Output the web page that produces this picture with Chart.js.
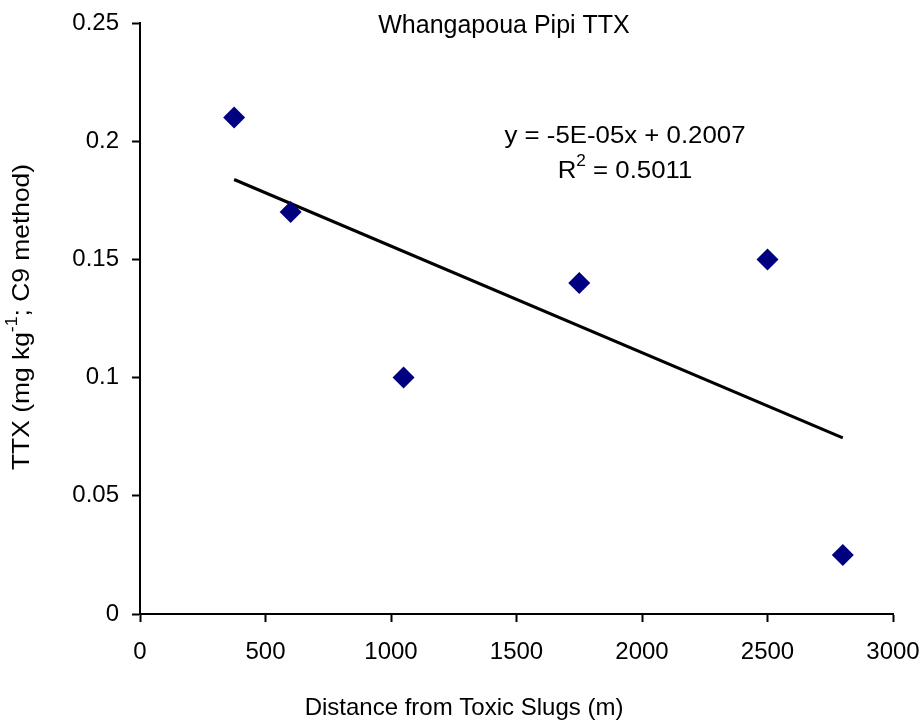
<!DOCTYPE html>
<html>
<head>
<meta charset="utf-8">
<script src="https://cdn.jsdelivr.net/npm/chart.js@4"></script>
<style>
  html, body { margin: 0; padding: 0; background: #fff; }
  #wrap { width: 922px; height: 727px; }
</style>
</head>
<body>
<div id="wrap"><canvas id="chart" width="922" height="727"></canvas></div>
<script>
// ---------- DATA ----------
const distances = [375, 600, 1050, 1750, 2500, 2800];
const ttxValues = [0.21, 0.17, 0.10, 0.14, 0.15, 0.025];
const trendX = [375, 2800];
const trendY = [0.1838, 0.0745];
const xTicks = [0, 500, 1000, 1500, 2000, 2500, 3000];
const yTicks = [0, 0.05, 0.1, 0.15, 0.2, 0.25];

const chartTitle = "Whangapoua Pipi TTX";
const xTitle = "Distance from Toxic Slugs (m)";
const eqLine = "y = -5E-05x + 0.2007";
const r2Value = "0.5011";

const FONT = "'Liberation Sans', Arial, sans-serif";

// ---------- TEXT PLUGIN ----------
// title, axis titles (with superscripts) and trend equation
const textPlugin = {
  id: "texts",
  afterDraw(chart) {
    const ctx = chart.ctx;
    const a = chart.chartArea;
    ctx.save();
    ctx.fillStyle = "#000";
    ctx.textBaseline = "middle";
    ctx.textAlign = "center";

    ctx.font = "25px " + FONT;
    ctx.fillText(chartTitle, 504, a.top + 3);
    ctx.font = "24px " + FONT;
    ctx.fillText(xTitle, 464, 708);

    // equation
    drawParts(ctx, [[eqLine, 0]], 625, 136, 1.075);
    drawParts(ctx, [["R", 0], ["2", 1], [" = " + r2Value, 0]], 625, 171, 1.075);

    // y title, rotated
    ctx.translate(22, 317);
    ctx.rotate(-Math.PI / 2);
    drawParts(ctx, [["TTX (mg kg", 0], ["-1", 1], ["; C9 method)", 0]], 0, 0, 1.1);
    ctx.restore();
  }
};

// parts: [text, isSuper]; centred at x,y, stretched by sx
function drawParts(ctx, parts, x, y, sx) {
  const big = "24px " + FONT, small = "16px " + FONT;
  ctx.save();
  ctx.translate(x, y);
  ctx.scale(sx, 1);
  let total = 0;
  parts.forEach(p => {
    ctx.font = p[1] ? small : big;
    total += ctx.measureText(p[0]).width;
  });
  let cur = -total / 2;
  ctx.textAlign = "left";
  parts.forEach(p => {
    ctx.font = p[1] ? small : big;
    ctx.fillText(p[0], cur, p[1] ? -9 : 0);
    cur += ctx.measureText(p[0]).width;
  });
  ctx.restore();
}

// ---------- CHART ----------
const ctx = document.getElementById("chart").getContext("2d");
new Chart(ctx, {
  type: "scatter",
  data: {
    datasets: [
      {
        label: "TTX",
        data: distances.map((d, i) => ({ x: d, y: ttxValues[i] })),
        pointStyle: "rectRot",
        pointRadius: 11,
        pointHoverRadius: 11,
        backgroundColor: "#000080",
        borderColor: "#000080",
        borderWidth: 0,
        showLine: false,
        order: 1
      },
      {
        label: "Linear",
        data: trendX.map((d, i) => ({ x: d, y: trendY[i] })),
        showLine: true,
        borderColor: "#000",
        borderWidth: 3,
        pointRadius: 0,
        fill: false,
        order: 2
      }
    ]
  },
  options: {
    responsive: false,
    animation: false,
    maintainAspectRatio: false,
    layout: { padding: { left: 0, right: 29, top: 23, bottom: 0 } },
    plugins: {
      legend: { display: false },
      title: { display: false },
      tooltip: { enabled: false }
    },
    scales: {
      x: {
        type: "linear",
        min: 0,
        max: 3000,
        afterBuildTicks: s => { s.ticks = xTicks.map(v => ({ value: v })); },
        afterFit: s => { s.height = 113; s.paddingLeft = 0; s.paddingRight = 0; },
        border: { display: true, color: "#000", width: 2 },
        grid: { display: true, drawOnChartArea: false, drawTicks: true, tickLength: 8, tickColor: "#000", tickWidth: 2 },
        ticks: { color: "#000", font: { size: 24, family: FONT }, padding: 16, maxRotation: 0, callback: v => String(v) }
      },
      y: {
        type: "linear",
        min: 0,
        max: 0.25,
        afterBuildTicks: s => { s.ticks = yTicks.map(v => ({ value: v })); },
        afterFit: s => { s.width = 140; s.paddingTop = 0; s.paddingBottom = 0; },
        border: { display: true, color: "#000", width: 2 },
        grid: { display: true, drawOnChartArea: false, drawTicks: true, tickLength: 8, tickColor: "#000", tickWidth: 2 },
        ticks: { color: "#000", font: { size: 24, family: FONT }, padding: 13, callback: v => String(v) }
      }
    }
  },
  plugins: [textPlugin]
});
</script>
</body>
</html>
